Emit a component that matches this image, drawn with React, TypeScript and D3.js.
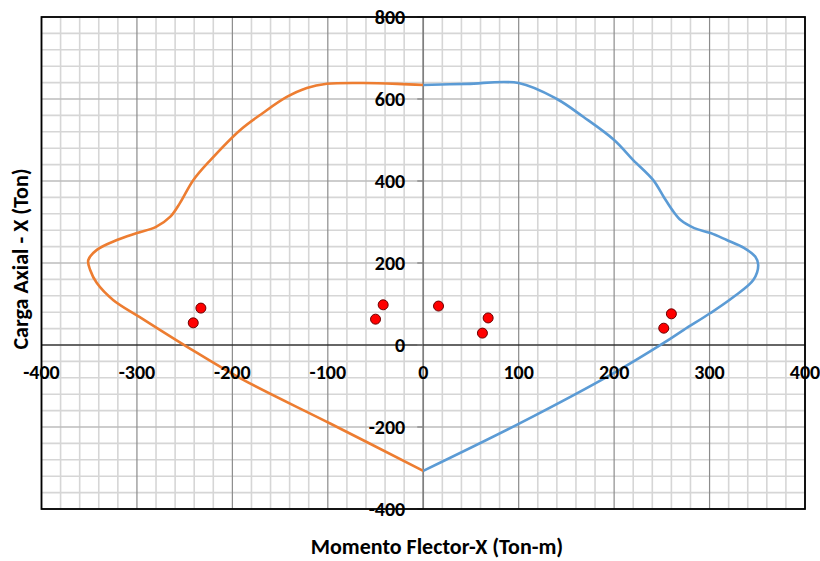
import React from "react";
import * as d3 from "d3";

const xTicks = [-400, -300, -200, -100, 0, 100, 200, 300, 400];
const yTicks = [-400, -200, 0, 200, 400, 600, 800];

// Right-hand (positive moment) interaction curve
const blueM = [0, 46, 100, 140, 168, 200, 220, 241, 252, 261, 270, 284, 301, 318, 336, 348, 351, 346, 325, 301, 273, 252, 200, 102, 0];
const blueP = [634, 637, 639, 600, 556, 500, 451, 402, 361, 329, 304, 285, 273, 256, 237, 215, 195, 159, 117, 78, 37, 5, -68, -190, -307];

// Left-hand (negative moment) interaction curve
const orangeM = [0, -27, -63, -101, -122, -143, -168, -192, -223, -241, -255, -265, -280, -300, -321, -342, -351, -349, -342, -325, -297, -247, -191, -97, 0];
const orangeP = [634, 637, 639, 637, 627, 605, 566, 524, 451, 402, 346, 313, 288, 273, 256, 232, 207, 183, 151, 110, 68, -5, -82, -192, -307];

// Load points
const ptM = [-233, -241, -42, -50, 16, 68, 62, 260, 252];
const ptP = [90, 54, 98, 63, 95, 66, 29, 76, 41];

const W = 820;
const H = 561;
const L = 41.5, R = 805, T = 17, B = 509;

export default function App() {
  const x = d3.scaleLinear().domain([-400, 400]).range([L, R]);
  const y = d3.scaleLinear().domain([-400, 800]).range([B, T]);

  const line = d3
    .line<[number, number]>()
    .x((d) => x(d[0]))
    .y((d) => y(d[1]))
    .curve(d3.curveCatmullRom.alpha(0.5));

  const blue = blueM.map((m, i) => [m, blueP[i]] as [number, number]);
  const orange = orangeM.map((m, i) => [m, orangeP[i]] as [number, number]);

  const minorX = d3.range(-400, 401, 20).filter((v) => v % 100 !== 0);
  const majorX = d3.range(-400, 401, 100);
  const minorY = d3.range(-400, 801, 40).filter((v) => v % 200 !== 0);
  const majorY = d3.range(-400, 801, 200);

  const font = "Carlito, Calibri, Lato, 'Open Sans', sans-serif";

  return (
    <svg
      width={W}
      height={H}
      style={{ position: "absolute", left: 0, top: 0, background: "#fff" }}
      fontFamily={font}
    >
      <rect x={0} y={0} width={W} height={H} fill="#fff" />
      {minorX.map((v) => (
        <line key={"mx" + v} x1={x(v)} x2={x(v)} y1={T} y2={B} stroke="#d6d6d6" strokeWidth={1.6} />
      ))}
      {minorY.map((v) => (
        <line key={"my" + v} x1={L} x2={R} y1={y(v)} y2={y(v)} stroke="#d6d6d6" strokeWidth={1.6} />
      ))}
      {majorY.map((v) => (
        <line key={"My" + v} x1={L} x2={R} y1={y(v)} y2={y(v)} stroke="#bdbdbd" strokeWidth={1.6} />
      ))}
      {majorX.map((v) => (
        <line key={"Mx" + v} x1={x(v)} x2={x(v)} y1={T} y2={B} stroke="#8c8c8c" strokeWidth={1.2} />
      ))}
      {/* axes */}
      <line x1={x(0)} x2={x(0)} y1={T} y2={B} stroke="#7f7f7f" strokeWidth={1.6} />
      <line x1={L} x2={R} y1={y(0)} y2={y(0)} stroke="#000" strokeWidth={1.2} />
      {yTicks.map((v) => (
        <line key={"yt" + v} x1={x(0) - 6} x2={x(0)} y1={y(v)} y2={y(v)} stroke="#7f7f7f" strokeWidth={1.2} />
      ))}
      <rect x={L} y={T} width={R - L} height={B - T} fill="none" stroke="#000" strokeWidth={1.8} />

      <path d={line(orange) || ""} fill="none" stroke="#ED7D31" strokeWidth={2.6} />
      <path d={line(blue) || ""} fill="none" stroke="#5B9BD5" strokeWidth={2.6} />

      {ptM.map((m, i) => (
        <circle key={"p" + i} cx={x(m)} cy={y(ptP[i])} r={5} fill="#ff0000" stroke="#6b0000" strokeWidth={1} />
      ))}

      {xTicks.map((v) => (
        <text key={"xl" + v} x={x(v)} y={y(0) + 34} textAnchor="middle" fontSize={20} fontWeight="bold" fill="#000">
          {v}
        </text>
      ))}
      {yTicks.map((v) => (
        <text key={"yl" + v} x={x(0) - 18} y={y(v) + 7} textAnchor="end" fontSize={20} fontWeight="bold" fill="#000">
          {v}
        </text>
      ))}

      <text x={437} y={554} textAnchor="middle" fontSize={22} fontWeight="bold" fill="#000">
        Momento Flector-X (Ton-m)
      </text>
      <text
        transform={`translate(28, 259) rotate(-90)`}
        textAnchor="middle"
        fontSize={22}
        fontWeight="bold"
        fill="#000"
      >
        Carga Axial - X (Ton)
      </text>
    </svg>
  );
}
